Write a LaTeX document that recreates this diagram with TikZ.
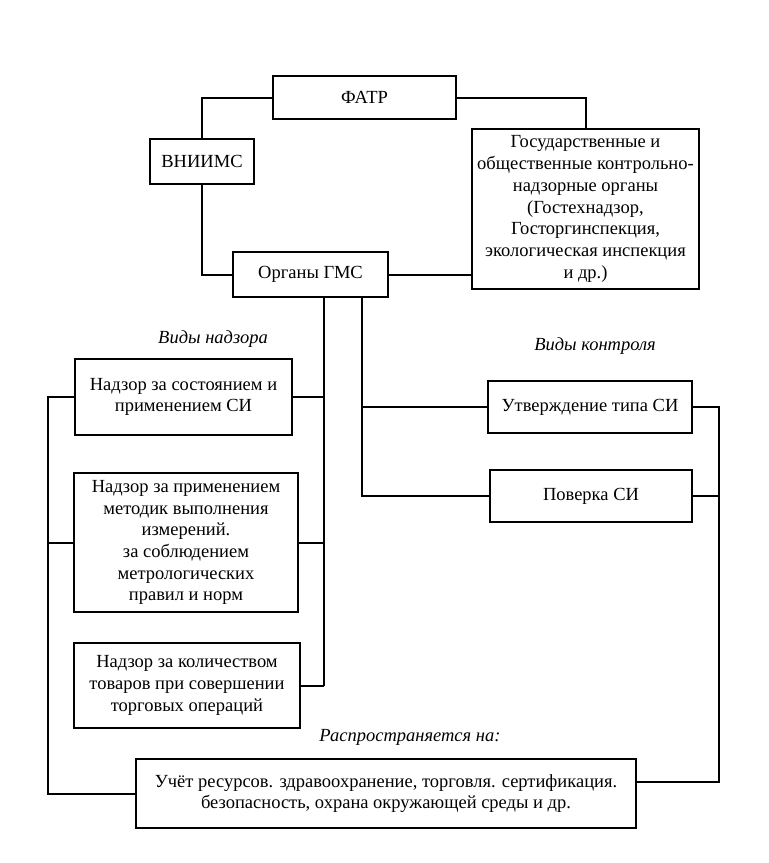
\documentclass[tikz,border=0pt]{standalone}
\usepackage{fontspec}
\setmainfont{Liberation Serif}
\begin{document}
\begin{tikzpicture}[x=1pt, y=-1pt, line width=2pt,
  every node/.style={align=center, font=\fontsize{18.5}{21.7}\selectfont},
  box/.style={draw, inner sep=2pt},
  lbl/.style={font=\fontsize{18.5}{21.7}\selectfont\itshape}]
\useasboundingbox (0,0) rectangle (769,863);
\node[box, minimum width=183pt, minimum height=43pt] (fatr) at (364.5,97.5) {ФАТР};
\node[box, minimum width=104pt, minimum height=45pt] (vniims) at (202,161.5) {ВНИИМС};
\node[box, minimum width=155pt, minimum height=45pt] (gms) at (310.5,274.5) {Органы ГМС};
\node[box, minimum width=227pt, minimum height=160pt] (gos) at (585.5,209) {Государственные и\\общественные контрольно-\\надзорные органы\\(Гостехнадзор,\\Госторгинспекция,\\экологическая инспекция\\и др.)};
\node[lbl] (nadzor) at (213,339) {Виды надзора};
\node[box, minimum width=217pt, minimum height=76pt] (n1) at (183.5,397) {Надзор за состоянием и\\применением СИ};
\node[box, minimum width=224pt, minimum height=139pt] (n2) at (186,542.5) {Надзор за применением\\методик выполнения\\измерений.\\за соблюдением\\метрологических\\правил и норм};
\node[box, minimum width=226pt, minimum height=85pt] (n3) at (187,685.5) {Надзор за количеством\\товаров при совершении\\торговых операций};
\node[lbl] (kontrol) at (595,346) {Виды контроля};
\node[box, minimum width=204pt, minimum height=52pt] (ut) at (590,407) {Утверждение типа СИ};
\node[box, minimum width=202pt, minimum height=52pt] (pov) at (591,496) {Поверка СИ};
\node[lbl] (rasplbl) at (410,737) {Распространяется на:};
\node[box, minimum width=500pt, minimum height=69pt] (rasp) at (386,793.5) {Учёт ресурсов. здравоохранение, торговля. сертификация.\\безопасность, охрана окружающей среды и др.};
\coordinate (busL) at (324,686);
\coordinate (busK) at (362,496);
\coordinate (outL) at (48,795);
\coordinate (outR) at (719,782);
% top ring
\draw (fatr.west) -| (vniims.north);
\draw (fatr.east) -| (gos.north);
\draw (vniims.south) |- (gms.west);
\draw (gms.east) -- (gms.east -| gos.west);
% supervision
\draw (gms.south -| busL) -- (busL);
\draw (n1.east) -- (n1.east -| busL);
\draw (n2.east) -- (n2.east -| busL);
\draw (n3.east) -- (n3.east -| busL);
% control
\draw (gms.south -| busK) |- (pov.west);
\draw (ut.west -| busK) -- (ut.west);
% outer lines to the bottom box
\draw (n1.west) -| (outL |- rasp.west) -- (rasp.west);
\draw (n2.west) -- (n2.west -| outL);
\draw (ut.east) -| (outR) -- (outR -| rasp.east);
\draw (pov.east) -- (pov.east -| outR);
\end{tikzpicture}
\end{document}
